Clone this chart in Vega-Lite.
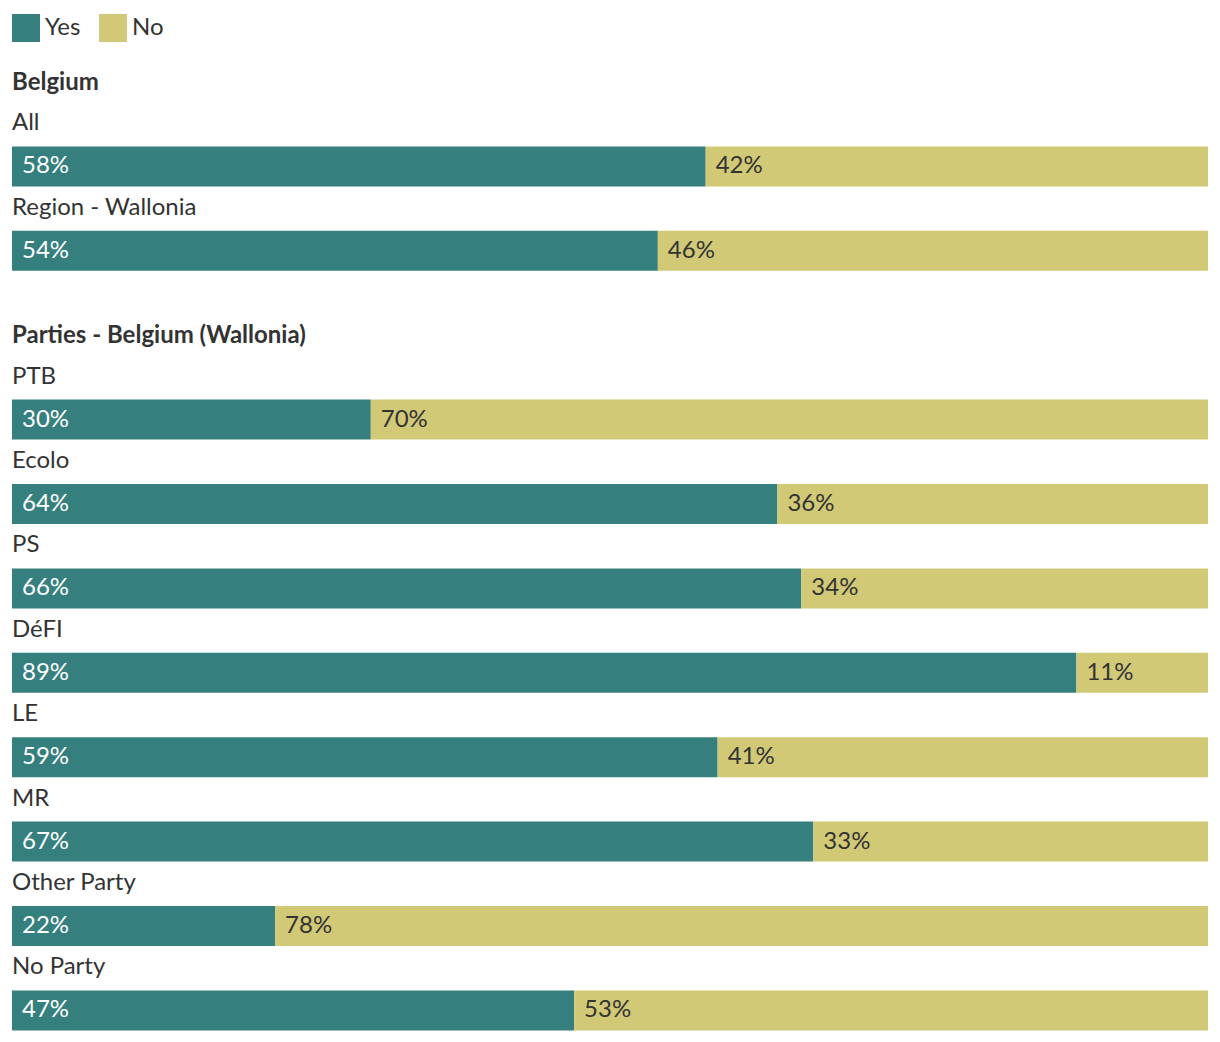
{
  "$schema": "https://vega.github.io/schema/vega-lite/v6.json",
  "width": 1196,
  "height": 968.4,
  "padding": {"left": 12, "right": 12, "top": 14, "bottom": 12},
  "config": {"font": "Lato", "view": {"stroke": null}},
  "datasets": {
    "results": [
      {"row": "All", "answer": "Yes", "value": 0.58},
      {"row": "All", "answer": "No", "value": 0.42},
      {"row": "Region - Wallonia", "answer": "Yes", "value": 0.54},
      {"row": "Region - Wallonia", "answer": "No", "value": 0.46},
      {"row": "PTB", "answer": "Yes", "value": 0.30},
      {"row": "PTB", "answer": "No", "value": 0.70},
      {"row": "Ecolo", "answer": "Yes", "value": 0.64},
      {"row": "Ecolo", "answer": "No", "value": 0.36},
      {"row": "PS", "answer": "Yes", "value": 0.66},
      {"row": "PS", "answer": "No", "value": 0.34},
      {"row": "DéFI", "answer": "Yes", "value": 0.89},
      {"row": "DéFI", "answer": "No", "value": 0.11},
      {"row": "LE", "answer": "Yes", "value": 0.59},
      {"row": "LE", "answer": "No", "value": 0.41},
      {"row": "MR", "answer": "Yes", "value": 0.67},
      {"row": "MR", "answer": "No", "value": 0.33},
      {"row": "Other Party", "answer": "Yes", "value": 0.22},
      {"row": "Other Party", "answer": "No", "value": 0.78},
      {"row": "No Party", "answer": "Yes", "value": 0.47},
      {"row": "No Party", "answer": "No", "value": 0.53}
    ],
    "headers": [
      {"row": "Belgium"},
      {"row": "Parties - Belgium (Wallonia)"}
    ]
  },
  "layer": [
    {
      "data": {"name": "results"},
      "transform": [
        {"stack": "value", "groupby": ["row"], "sort": [{"field": "answer", "order": "descending"}], "as": ["v0", "v1"]}
      ],
      "mark": {"type": "bar"},
      "encoding": {
        "x": {"field": "v0", "type": "quantitative", "scale": {"domain": [0, 1], "nice": false, "zero": true}, "axis": null},
        "x2": {"field": "v1"},
        "y": {
          "field": "row", "type": "nominal", "axis": null,
          "scale": {
            "domain": ["Belgium", "All", "Region - Wallonia", "Parties - Belgium (Wallonia)", "PTB", "Ecolo", "PS", "DéFI", "LE", "MR", "Other Party", "No Party"],
            "paddingInner": 0.526, "paddingOuter": 0
          }
        },
        "color": {
          "field": "answer", "type": "nominal",
          "scale": {"domain": ["Yes", "No"], "range": ["#367f7f", "#d2c977"]},
          "legend": {
            "orient": "top", "title": null, "symbolType": "square", "symbolSize": 784,
            "labelFontSize": 24, "labelFont": "Lato", "labelColor": "#333333",
            "symbolStrokeWidth": 0, "symbolOpacity": 1, "offset": 20,
            "columnPadding": 18, "labelOffset": 5, "padding": 0
          }
        }
      }
    },
    {
      "data": {"name": "results"},
      "transform": [
        {"stack": "value", "groupby": ["row"], "sort": [{"field": "answer", "order": "descending"}], "as": ["v0", "v1"]}
      ],
      "mark": {"type": "text", "align": "left", "baseline": "middle", "dx": 10, "fontSize": 24, "font": "Lato"},
      "encoding": {
        "x": {"field": "v0", "type": "quantitative"},
        "y": {"field": "row", "type": "nominal"},
        "text": {"field": "value", "type": "quantitative", "format": ".0%"},
        "color": {"condition": {"test": "datum.answer === 'Yes'", "value": "#ffffff"}, "value": "#333333"}
      }
    },
    {
      "data": {"name": "results"},
      "transform": [{"filter": "datum.answer === 'Yes'"}],
      "mark": {"type": "text", "align": "left", "baseline": "alphabetic", "dy": -16, "dx": 0, "fontSize": 24, "font": "Lato", "color": "#333333"},
      "encoding": {
        "x": {"datum": 0, "type": "quantitative"},
        "y": {"field": "row", "type": "nominal", "bandPosition": 0},
        "text": {"field": "row", "type": "nominal"}
      }
    },
    {
      "data": {"name": "headers"},
      "mark": {"type": "text", "align": "left", "baseline": "alphabetic", "dy": 28, "dx": 0, "fontSize": 24, "font": "Lato", "fontWeight": "bold", "color": "#333333"},
      "encoding": {
        "x": {"datum": 0, "type": "quantitative"},
        "y": {"field": "row", "type": "nominal", "bandPosition": 0},
        "text": {"field": "row", "type": "nominal"}
      }
    }
  ]
}
